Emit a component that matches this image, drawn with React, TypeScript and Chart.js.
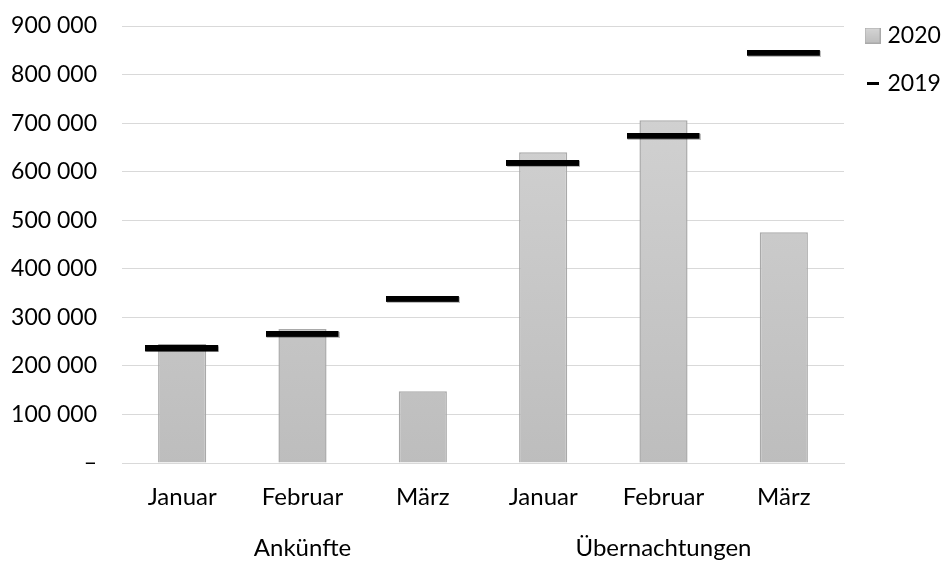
import React, { useEffect, useRef } from "react";
import { Chart, registerables } from "chart.js";

Chart.register(...registerables);

const months = ["Januar", "Februar", "März", "Januar", "Februar", "März"];
const groups = ["Ankünfte", "Übernachtungen"];
const values2020 = [245000, 276000, 148000, 640000, 706000, 475000];
const values2019 = [235000, 265000, 337000, 617000, 673000, 844000];
const yTicks = [0, 100000, 200000, 300000, 400000, 500000, 600000, 700000, 800000, 900000];

const FONT = "Lato, 'Open Sans', sans-serif";

function fmt(v: number): string {
  if (v === 0) return "–";
  const s = Math.round(v).toString();
  return s.replace(/\B(?=(\d{3})+(?!\d))/g, " ");
}

function makeDash(): HTMLCanvasElement {
  const c = document.createElement("canvas");
  c.width = 74;
  c.height = 7;
  const ctx = c.getContext("2d")!;
  ctx.fillStyle = "rgba(0,0,0,0.25)";
  ctx.fillRect(1, 1, 73, 6);
  ctx.fillStyle = "#000";
  ctx.fillRect(0, 0, 73, 6);
  return c;
}

function makeLegendBox(): HTMLCanvasElement {
  const c = document.createElement("canvas");
  c.width = 16;
  c.height = 16;
  const ctx = c.getContext("2d")!;
  const g = ctx.createLinearGradient(0, 0, 0, 16);
  g.addColorStop(0, "#d6d6d6");
  g.addColorStop(1, "#bdbdbd");
  ctx.fillStyle = g;
  ctx.fillRect(0, 0, 16, 16);
  ctx.strokeStyle = "#a9a9a9";
  ctx.lineWidth = 1;
  ctx.strokeRect(0.5, 0.5, 15, 15);
  return c;
}

function makeLegendLine(): HTMLCanvasElement {
  const c = document.createElement("canvas");
  c.width = 12;
  c.height = 3;
  const ctx = c.getContext("2d")!;
  ctx.fillStyle = "#000";
  ctx.fillRect(0, 0, 12, 3);
  return c;
}

export default function App() {
  const ref = useRef<HTMLCanvasElement | null>(null);

  useEffect(() => {
    if (!ref.current) return;
    const dash = makeDash();
    const legBox = makeLegendBox();
    const legLine = makeLegendLine();
    const chart = new Chart(ref.current, {
      type: "bar",
      data: {
        labels: months,
        datasets: [
          {
            type: "line",
            label: "2019",
            data: values2019,
            showLine: false,
            pointStyle: dash,
            pointRadius: 2,
            pointHoverRadius: 2,
            pointBorderWidth: 0,
            borderColor: "#000000",
            backgroundColor: "#000000",
            borderWidth: 0,
            order: 0,
          } as any,
          {
            type: "bar",
            label: "2020",
            data: values2020,
            backgroundColor: (c: any) => {
              const area = c.chart.chartArea;
              if (!area) return "#c8c8c8";
              const g = c.chart.ctx.createLinearGradient(0, area.top, 0, area.bottom);
              g.addColorStop(0, "#d6d6d6");
              g.addColorStop(1, "#bdbdbd");
              return g;
            },
            borderColor: "#a9a9a9",
            borderWidth: 1.5,
            barPercentage: 0.4,
            categoryPercentage: 1,
            order: 1,
          },
        ],
      },
      options: {
        responsive: true,
        maintainAspectRatio: false,
        animation: false,
        layout: { autoPadding: false, padding: { top: -1, right: 0, left: 10, bottom: 0 } },
        plugins: {
          tooltip: { enabled: false },
          legend: {
            position: "right",
            align: "start",
            maxWidth: 97,
            labels: {
              font: { family: FONT, size: 23 },
              color: "#000",
              usePointStyle: true,
              boxWidth: 7,
              boxHeight: 16,
              pointStyleWidth: 7,
              padding: 25,
              generateLabels: () => [
                {
                  text: "2020",
                  fillStyle: "#c8c8c8",
                  strokeStyle: "#a9a9a9",
                  lineWidth: 0,
                  pointStyle: legBox,
                  datasetIndex: 1,
                  hidden: false,
                } as any,
                {
                  text: "2019",
                  fillStyle: "#000",
                  strokeStyle: "#000",
                  lineWidth: 0,
                  pointStyle: legLine,
                  datasetIndex: 0,
                  hidden: false,
                } as any,
              ],
            },
          },
        },
        scales: {
          x: {
            type: "category",
            position: "bottom",
            grid: { display: false, drawTicks: false, tickLength: 0 },
            border: { display: true, color: "#d9d9d9", width: 1 },
            ticks: { font: { family: FONT, size: 24, lineHeight: 1 }, color: "#000", padding: 22, maxRotation: 0 },
            afterFit: (axis: any) => {
              axis.height = 52;
            },
          },
          x2: {
            type: "category",
            position: "bottom",
            labels: groups,
            grid: { display: false, drawTicks: false, tickLength: 0 },
            border: { display: false },
            ticks: { font: { family: FONT, size: 24, lineHeight: 1 }, color: "#000", padding: 21, maxRotation: 0 },
            afterFit: (axis: any) => {
              axis.height = 46;
            },
          },
          y: {
            min: 0,
            max: 900000,
            afterBuildTicks: (axis: any) => {
              axis.ticks = yTicks.map((v) => ({ value: v }));
            },
            afterFit: (axis: any) => {
              axis.width = 112;
              axis.paddingTop = 26;
              axis.paddingBottom = 0;
            },
            grid: { color: "#d9d9d9", lineWidth: 1, drawTicks: false },
            border: { display: false },
            ticks: {
              font: { family: FONT, size: 23 },
              color: "#000",
              padding: 25,
              callback: (v: any) => fmt(Number(v)),
            },
          },
        },
      },
    });
    return () => chart.destroy();
  }, []);

  return (
    <div style={{ position: "absolute", left: 0, top: 0, width: 941, height: 561, background: "#fff" }}>
      <canvas ref={ref} />
    </div>
  );
}
